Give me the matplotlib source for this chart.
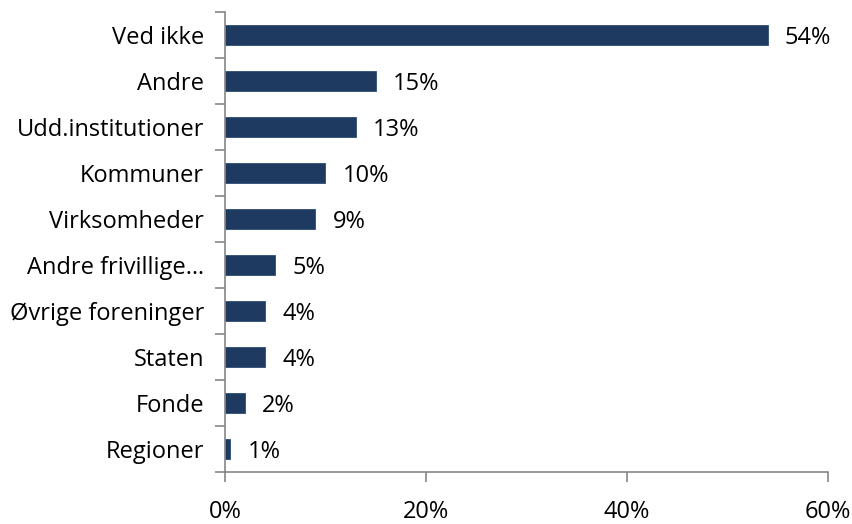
import numpy as np
import matplotlib.pyplot as plt

categories = ['Ved ikke', 'Andre', 'Udd.institutioner', 'Kommuner', 'Virksomheder',
              'Andre frivillige…', 'Øvrige foreninger', 'Staten', 'Fonde', 'Regioner']
values = [54, 15, 13, 10, 9, 5, 4, 4, 2, 0.55]
xticks = [0, 20, 40, 60]

plt.rcParams['font.family'] = ['Open Sans', 'DejaVu Sans']

fig = plt.figure(figsize=(8.52, 5.24), dpi=100)
ax = fig.add_axes([0.264, 0.099, 0.708, 0.878])

y = np.arange(len(categories))
ax.barh(y, values, height=0.42, color='#1f3a60', edgecolor='#2e4d78', linewidth=0.6)
for yi, v in zip(y, values):
    ax.text(v + 1.7, yi + 0.07, f'{v:.0f}%', va='center', ha='left', fontsize=17)

ax.set_xlim(0, 60)
ax.set_ylim(len(categories) - 0.5, -0.5)
ax.set_xticks(xticks)
ax.set_xticklabels([f'{t}%' for t in xticks], fontsize=17)
ax.set_yticks(y)
ax.set_yticklabels(categories, fontsize=17)
ax.set_yticks(np.arange(-0.5, len(categories)), minor=True)

for s in ['top', 'right']:
    ax.spines[s].set_visible(False)
for s in ['left', 'bottom']:
    ax.spines[s].set_color('#868686')
    ax.spines[s].set_linewidth(1.2)

ax.tick_params(axis='y', which='major', length=0, pad=15)
ax.tick_params(axis='y', which='minor', length=7, color='#868686', width=1.2)
ax.tick_params(axis='x', length=7, color='#868686', width=1.2, pad=13)

fig.savefig('out.png', dpi=100)
